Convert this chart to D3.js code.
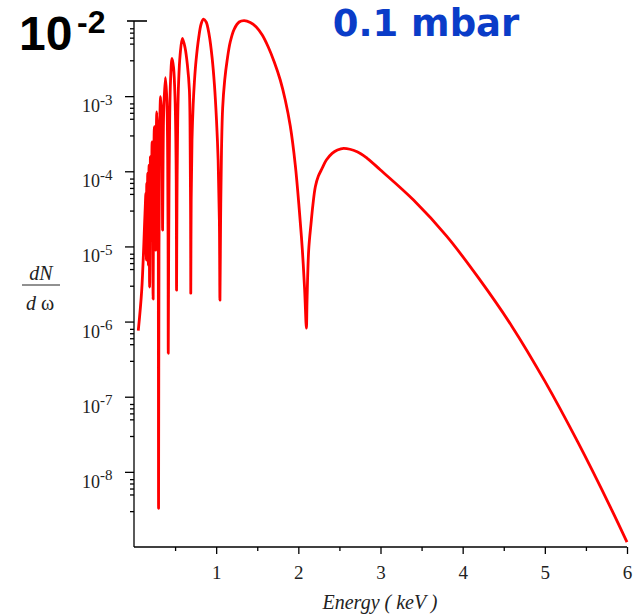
<!DOCTYPE html>
<html><head><meta charset="utf-8">
<script src="https://cdn.jsdelivr.net/npm/d3@7"></script>
<style>body{margin:0;background:#fff} svg{display:block}</style>
</head><body>
<svg id="chart" width="636" height="614"></svg>
<script>
// Photon energy (keV)
const energy = [
  0.052,0.094,0.134,0.145,0.150,0.155,0.160,0.167,0.175,0.183,
  0.190,0.200,0.210,0.220,0.233,0.239,0.248,0.256,0.262,0.268,
  0.278,0.289,0.295,0.299,0.304,0.311,0.324,0.338,0.344,0.348,
  0.354,0.362,0.382,0.400,0.410,0.415,0.417,0.422,0.427,0.434,
  0.445,0.463,0.482,0.500,0.512,0.516,0.518,0.523,0.532,0.543,
  0.561,0.589,0.622,0.650,0.674,0.684,0.689,0.691,0.696,0.706,
  0.720,0.735,0.756,0.787,0.817,0.845,0.878,0.915,0.951,0.979,
  1.004,1.024,1.039,1.046,1.054,1.065,1.079,1.104,1.134,1.171,
  1.220,1.280,1.341,1.415,1.488,1.561,1.634,1.707,1.780,1.841,
  1.902,1.963,2.012,2.049,2.077,2.098,2.106,2.126,2.155,2.177,
  2.207,2.244,2.289,2.341,2.411,2.476,2.552,2.716,2.838,3.0,
  3.402,3.805,4.195,4.598,5.0,5.402,5.805,6.0
];
// dN/dω
const dNdw = [
  7.6e-7,2.62e-6,2.77e-5,5.13e-5,6.6e-6,6.97e-5,1.04e-5,9.46e-5,5.64e-6,1.21e-4,
  2.87e-6,1.56e-4,1.21e-5,2.47e-4,1.99e-6,7.64e-5,3.92e-4,1.41e-4,8.93e-6,1.41e-4,
  6.19e-4,2.60e-4,2.24e-5,3.27e-9,8.93e-6,2.60e-4,9.82e-4,4.81e-4,1.04e-4,1.65e-5,
  1.41e-4,6.53e-4,1.76e-3,8.87e-4,1.41e-4,8.93e-6,3.79e-7,8.93e-6,7.64e-5,4.81e-4,
  1.64e-3,3.19e-3,2.37e-3,8.87e-4,1.41e-4,2.24e-5,2.62e-6,4.14e-5,4.81e-4,1.54e-3,
  3.52e-3,5.89e-3,4.37e-3,2.59e-3,1.21e-3,1.92e-4,2.24e-5,2.39e-6,4.14e-5,2.60e-4,
  7.61e-4,1.54e-3,3.03e-3,5.94e-3,9.12e-3,1.06e-2,9.70e-3,6.51e-3,3.22e-3,1.41e-3,
  4.81e-4,1.41e-4,2.24e-5,1.93e-6,2.24e-5,1.92e-4,6.95e-4,1.64e-3,3.03e-3,5.25e-3,
  7.82e-3,9.70e-3,1.01e-2,9.55e-3,8.32e-3,6.51e-3,4.51e-3,2.85e-3,1.64e-3,8.87e-4,
  4.00e-4,1.21e-4,3.04e-5,8.93e-6,2.62e-6,8.17e-7,1.93e-6,8.93e-6,2.04e-5,3.55e-5,
  6.22e-5,8.63e-5,1.09e-4,1.41e-4,1.73e-4,1.92e-4,2.02e-4,1.82e-4,1.49e-4,1.04e-4,
  4.14e-5,1.37e-5,3.78e-6,8.69e-7,1.61e-7,2.48e-8,3.27e-9,1.16e-9
];
const xMajorTicks = [1, 2, 3, 4, 5, 6];
const xMinorTicks = [0.5, 1.5, 2.5, 3.5, 4.5, 5.5];
const yExponents = [-3, -4, -5, -6, -7, -8];
const yMinorMantissas = [3, 5, 6, 7, 8];
const yDecades = [-9, -8, -7, -6, -5, -4, -3];
const xTitle = "Energy ( keV )";
const annotationExp = "-2";
const pressureLabel = "0.1 mbar";

const svg = d3.select("#chart");
const x = d3.scaleLinear().domain([0, 6]).range([134, 627]);
const y = d3.scaleLog().domain([1e-9, 1e-2]).range([547, 21]);

const serif = "'Liberation Serif','Times New Roman',serif";
const sans = "'Liberation Sans',Arial,sans-serif";
const wide = "'DejaVu Sans',Verdana,sans-serif";

// X axis
const gx = svg.append("g").attr("transform", `translate(0,${y(1e-9)})`);
gx.call(d3.axisBottom(x).tickValues(xMajorTicks).tickSize(7).tickSizeOuter(0).tickPadding(12).tickFormat(d3.format("d")));
gx.append("g").call(d3.axisBottom(x).tickValues(xMinorTicks).tickSize(4).tickSizeOuter(0).tickFormat(""))
  .select(".domain").remove();
gx.selectAll("text").attr("font-family", serif).attr("font-size", 19).attr("fill", "#222");
gx.selectAll("line,path").attr("stroke", "#000").attr("stroke-width", 1.3);
gx.select(".domain").attr("d", `M${x(0)},0H${x(6)}`);

// Y axis
const gy = svg.append("g").attr("transform", `translate(${x(0)},0)`);
gy.call(d3.axisLeft(y).tickValues(yExponents.map(e => Math.pow(10, e))).tickSize(9).tickSizeOuter(0).tickFormat(""));
const minorVals = [];
yDecades.forEach(e => yMinorMantissas.forEach(m => minorVals.push(m * Math.pow(10, e))));
gy.append("g").call(d3.axisLeft(y).tickValues(minorVals).tickSize(4).tickSizeOuter(0).tickFormat(""))
  .select(".domain").remove();
gy.selectAll("line,path").attr("stroke", "#000").attr("stroke-width", 1.3);
gy.select(".domain").attr("d", `M0,${y(1e-2)}V${y(1e-9)}`);
// top tick crossing axis
gy.append("line").attr("x1", -7).attr("x2", 13).attr("y1", y(1e-2)).attr("y2", y(1e-2))
  .attr("stroke", "#000").attr("stroke-width", 1.6);

// Y tick labels 10^n
yExponents.forEach(e => {
  const yy = y(Math.pow(10, e));
  svg.append("text").attr("x", 100).attr("y", yy + 16)
    .attr("font-family", serif).attr("font-size", 18).attr("fill", "#222").attr("text-anchor", "end").text("10");
  svg.append("text").attr("x", 100).attr("y", yy + 8.5)
    .attr("font-family", serif).attr("font-size", 15).attr("fill", "#222").text("-" + Math.abs(e));
});

// X title
svg.append("text").attr("x", 380).attr("y", 609).attr("text-anchor", "middle")
  .attr("font-family", serif).attr("font-style", "italic").attr("font-size", 20).attr("fill", "#222").text(xTitle);

// Y title dN / dω
svg.append("text").attr("x", 41).attr("y", 280).attr("text-anchor", "middle")
  .attr("font-family", serif).attr("font-style", "italic").attr("font-size", 20).attr("fill", "#222").text("dN");
svg.append("line").attr("x1", 22).attr("x2", 60).attr("y1", 285).attr("y2", 285).attr("stroke", "#222").attr("stroke-width", 1);
const dw = svg.append("text").attr("x", 40).attr("y", 310).attr("text-anchor", "middle")
  .attr("font-family", serif).attr("font-size", 20).attr("fill", "#222");
dw.append("tspan").attr("font-style", "italic").text("d ");
dw.append("tspan").text("ω");

// Big annotation 10^-2
svg.append("text").attr("x", 19).attr("y", 50).attr("font-family", sans).attr("font-weight", "bold")
  .attr("font-size", 48).attr("fill", "#000").text("10");
svg.append("text").attr("x", 77).attr("y", 33).attr("font-family", sans).attr("font-weight", "bold")
  .attr("font-size", 32).attr("fill", "#000").text(annotationExp);

// Pressure label
svg.append("text").attr("x", 426).attr("y", 36).attr("text-anchor", "middle").attr("font-family", wide)
  .attr("font-weight", "bold").attr("font-size", 37).attr("fill", "#0a3cc8").text(pressureLabel);

// Curve
const pts = energy.map((e, i) => [e, dNdw[i]]);
const line = d3.line().x(d => x(d[0])).y(d => y(d[1])).curve(d3.curveCatmullRom.alpha(0.5));
svg.append("path").datum(pts).attr("d", line).attr("fill", "none").attr("stroke", "#ff0000")
  .attr("stroke-width", 2.8).attr("stroke-linejoin", "round");
</script>
</body></html>
